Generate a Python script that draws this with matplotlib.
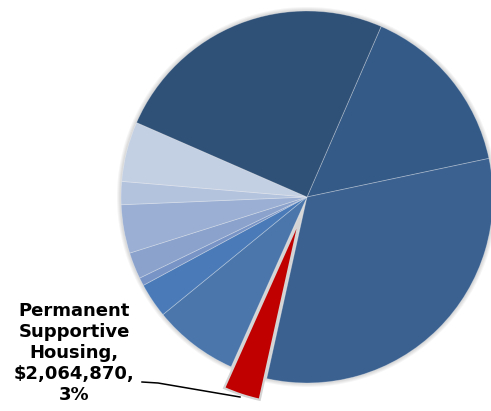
import matplotlib.pyplot as plt
from matplotlib.patches import Circle

# Budget by program, clockwise from the upper-right slice
programs = [
    "Program A", "Program B", "Permanent Supportive Housing", "Program D",
    "Program E", "Program F", "Program G", "Program H", "Program I",
    "Program J", "Program K",
]
amounts = [
    9740000, 20450000, 2064870, 4770000, 1940000, 450000,
    1480000, 2710000, 1290000, 3350000, 16060000,
]
colors = [
    "#345b88", "#3b6190", "#c00000", "#4a76ab", "#4a7bb8", "#7894c6",
    "#8aa2cc", "#9aafd3", "#b3c3de", "#c3cfe2", "#2f5077",
]
highlight = "Permanent Supportive Housing"

W, H = 491, 411
fig = plt.figure(figsize=(W / 100, H / 100), dpi=100)
ax = fig.add_axes([0, 0, 1, 1])

cx, cy, r = 307, H - 197, 186

# soft shadow ring around the pie
for k in range(1, 5):
    ax.add_patch(Circle((cx, cy), r + k, color="#000000", alpha=0.04, lw=0, zorder=0))

# pie() offsets exploded wedges in data units, so scale by the radius
explode = [0.12 * r if p == highlight else 0 for p in programs]
wedges, _ = ax.pie(
    amounts, colors=colors, explode=explode, startangle=66.5, counterclock=False,
    center=(cx, cy), radius=r, frame=True,
    wedgeprops=dict(edgecolor=(1, 1, 1, 0.3), linewidth=0.6),
)
i = programs.index(highlight)
wedges[i].set_edgecolor("#d4d4d4")
wedges[i].set_linewidth(1.6)
wedges[i].set_zorder(3)

ax.set_xlim(0, W)
ax.set_ylim(0, H)
ax.set_aspect("equal")
ax.axis("off")

total = sum(amounts)
val = amounts[i]
ax.text(74, H - 353,
        f"Permanent\nSupportive\nHousing,\n${val:,},\n{val / total:.0%}",
        ha="center", va="center", fontsize=13, fontweight="bold",
        linespacing=1.22, color="black")
ax.plot([142, 158, 240], [H - 382, H - 383, H - 397], color="black", lw=1.1)

fig.savefig("out.png", dpi=100)
